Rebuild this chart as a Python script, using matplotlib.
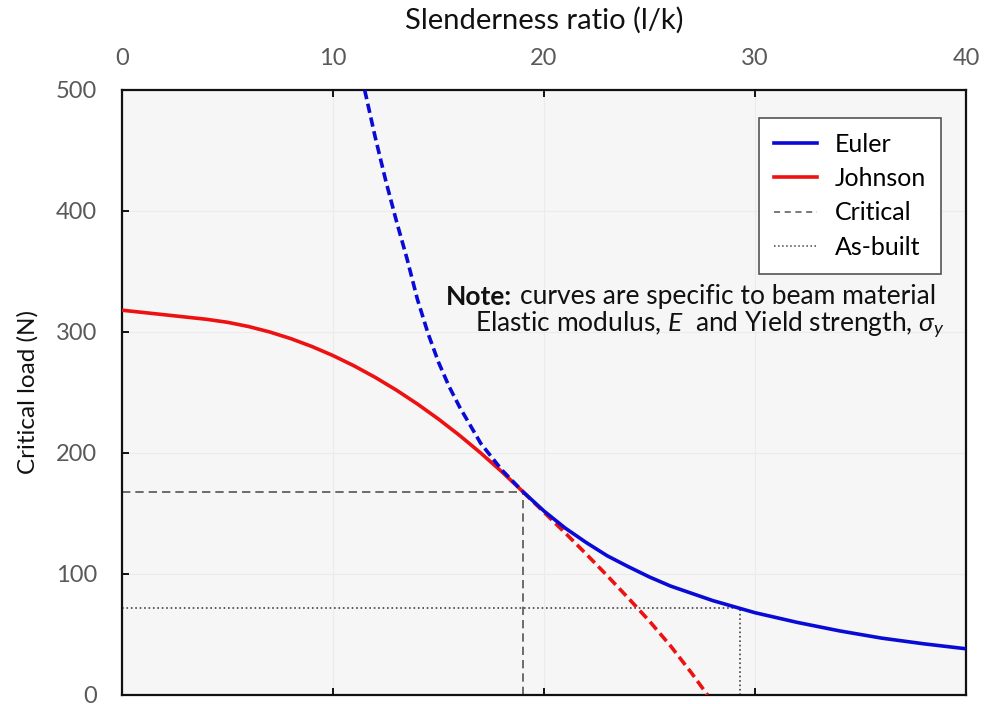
import matplotlib
matplotlib.use("Agg")
import matplotlib.pyplot as plt
from matplotlib.transforms import offset_copy

plt.rcParams["font.family"] = ["Lato", "DejaVu Sans"]
plt.rcParams["mathtext.fontset"] = "custom"
plt.rcParams["mathtext.rm"] = "Lato"
plt.rcParams["mathtext.it"] = "Lato:italic"
plt.rcParams["mathtext.bf"] = "Lato:bold"

# Euler curve, dashed part (left of critical point) and solid part
euler_dash_x = [11.5, 12, 12.5, 13, 13.5, 14, 14.5, 15, 15.5, 16, 17, 18, 19]
euler_dash_y = [500, 461, 425, 392, 361, 327, 299, 275, 255, 238, 208, 186, 168]
euler_x = [19, 20, 21, 22, 23, 24, 25, 26, 27, 28, 29, 30, 32, 34, 36, 38, 40]
euler_y = [168, 152, 138, 126, 115, 106, 97.5, 90, 84, 78, 73, 68, 60, 53, 47, 42.3, 38.2]

# Johnson curve, solid part and dashed continuation
johnson_x = [0, 4, 5, 6, 7, 8, 9, 10, 11, 12, 13, 14, 15, 16, 17, 18, 19]
johnson_y = [318, 310.5, 308, 304.5, 300, 294.5, 288, 280.5, 272, 262.5, 252, 240.5,
             228, 214.5, 200, 184.5, 168]
johnson_dash_x = [19, 20, 21, 22, 23, 24, 25, 26, 27, 27.75]
johnson_dash_y = [168, 151, 134, 116.5, 98.5, 80, 61, 40.5, 18, 0]

critical = (19.0, 168)
as_built = (29.3, 71.5)

blue = "#0a0ad6"
red = "#ee1111"

fig = plt.figure(figsize=(9.84, 7.04), dpi=100)
ax = fig.add_axes([0.124, 0.0128, 0.8577, 0.8594])
ax.set_facecolor("#f6f6f6")

ax.plot(euler_dash_x, euler_dash_y, color=blue, lw=2.6, ls=(0, (2.6, 1.3)), zorder=4)
ax.plot(johnson_dash_x, johnson_dash_y, color=red, lw=2.6, ls=(0, (2.8, 1.4)), zorder=3)
ax.plot(johnson_x, johnson_y, color=red, lw=2.6, zorder=3, solid_capstyle="butt")
ax.plot(euler_x, euler_y, color=blue, lw=2.6, zorder=5, solid_capstyle="butt")

ax.plot([0, critical[0]], [critical[1]] * 2, color="#555555", lw=1.2, ls=(0, (5, 3)), zorder=2)
ax.plot([critical[0]] * 2, [0, critical[1]], color="#555555", lw=1.2, ls=(0, (5, 3)), zorder=2)
ax.plot([0, as_built[0]], [as_built[1]] * 2, color="#444444", lw=1.2, ls=":", zorder=2)
ax.plot([as_built[0]] * 2, [0, as_built[1]], color="#444444", lw=1.2, ls=":", zorder=2)

ax.set_xlim(0, 40)
ax.set_ylim(0, 500)
ax.set_xticks([0, 10, 20, 30, 40])
ax.set_yticks([0, 100, 200, 300, 400, 500])
ax.grid(True, color="#ebebeb", lw=0.8)
ax.set_axisbelow(True)
ax.tick_params(axis="x", direction="in", top=True, bottom=True, labeltop=True,
               labelbottom=False, length=5, width=1.3, pad=15,
               labelsize=17, labelcolor="#595959")
ax.tick_params(axis="y", direction="in", length=5, width=1.3, pad=18,
               labelsize=17, labelcolor="#595959")
for s in ax.spines.values():
    s.set_linewidth(1.6)
    s.set_color("#111111")

ax.xaxis.set_label_position("top")
ax.set_xlabel("Slenderness ratio (l/k)", fontsize=21, labelpad=14, color="#111111")
ax.set_ylabel("Critical load (N)", fontsize=17.5, color="#111111")
ax.yaxis.set_label_coords(-0.099, 0.5)

handles = [
    plt.Line2D([], [], color=blue, lw=2.6),
    plt.Line2D([], [], color=red, lw=2.6),
    plt.Line2D([], [], color="#555555", lw=1.1, ls=(0, (4, 3))),
    plt.Line2D([], [], color="#444444", lw=1.1, ls=":"),
]
leg = ax.legend(handles, ["Euler", "Johnson", "Critical", "As-built"],
                loc="upper right", bbox_to_anchor=(0.970, 0.9537), borderaxespad=0,
                fontsize=18, fancybox=False, framealpha=1, edgecolor="#555555",
                handlelength=1.7, handletextpad=0.7, borderpad=0.6, labelspacing=0.45)
leg.get_frame().set_linewidth(1.2)

# note: bold "Note:" followed by regular text
body = ax.text(0.9645, 0.658, "curves are specific to beam material",
               transform=ax.transAxes, ha="right", va="center", fontsize=19, color="#111111")
fig.canvas.draw()
bb = body.get_window_extent()
left = ax.transAxes.inverted().transform((bb.x0, bb.y0))[0]
ax.text(left, 0.658, "Note:", transform=offset_copy(ax.transAxes, fig=fig, x=-6, units="points"),
        ha="right", va="center", fontsize=19, fontweight="bold", color="#111111")
ax.text(0.975, 0.610, r"Elastic modulus, $E$  and Yield strength, $\sigma_y$",
        transform=ax.transAxes, ha="right", va="center", fontsize=19, color="#111111")

fig.savefig("out.png", dpi=100)
